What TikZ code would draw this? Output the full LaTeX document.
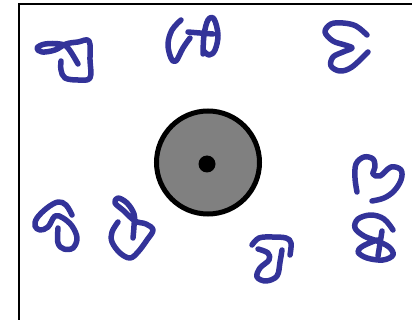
\documentclass[tikz,border=0pt]{standalone}
\begin{document}
\begin{tikzpicture}[x=1pt,y=-1pt,
  scrib/.style={draw={rgb,255:red,51;green,51;blue,153},line width=5.5pt,line cap=round,line join=round}]
\useasboundingbox (0,0) rectangle (412,320);
\clip (0,0) rectangle (412,320);
\draw[line width=2pt] (19,4.5) rectangle (440,350);
% central disc
\draw[line width=5pt,fill={rgb,255:red,128;green,128;blue,128}] (208,162.5) circle (51.5);
\fill (207,164) circle (8.5);
% scribble 1 top-left
\draw[scrib] plot[smooth,tension=0.6] coordinates {(78,64) (68,48) (60,44) (45,44) (37,48) (42,52) (55,50) (66,44) (78,42) (89,41) (90,60) (90,78) (78,80) (65,78) (61,70) (61,61)};
% scribble 2 top-middle
\draw[scrib] plot[smooth,tension=0.6] coordinates {(181,20) (172,30) (168,44) (171,58) (176,61) (183,48) (190,38)};
\draw[scrib] plot[smooth,tension=0.6] coordinates {(188,32) (200,33) (213,34)};
\draw[scrib] plot[smooth,tension=0.6] coordinates {(203,54) (204,35) (208,20) (214,19) (218,35) (215,50) (209,55) (203,50)};
% scribble 3 top-right
\draw[scrib] plot[smooth,tension=0.6] coordinates {(367,35) (356,26) (343,23) (331,24) (325,32) (333,41) (345,45) (352,48) (343,52) (333,57) (331,66) (340,71) (352,67) (368,52)};
% scribble 4 bottom-left
\draw[scrib] plot[smooth,tension=0.6] coordinates {(72,215) (66,205) (58,202) (47,208) (37,218) (35,226) (40,230) (48,227) (55,216) (63,218) (72,226) (77,238) (73,248) (64,249) (58,243) (58,228)};
% scribble 5 bottom-left second
\draw[scrib] plot[smooth,tension=0.6] coordinates {(118,222) (112,232) (112,242) (120,253) (130,258) (138,252) (147,240) (153,230) (146,224) (135,221) (124,211) (115,203) (118,198) (127,203) (134,214) (134,226) (133,238)};
% scribble 6 bottom-middle
\draw[scrib] plot[smooth,tension=0.6] coordinates {(252,245) (259,238) (272,237) (286,238) (291,243) (290,255)};
\draw[scrib] plot[smooth,tension=0.6] coordinates {(258,249) (268,253) (269,260) (260,268) (257,277) (266,281) (277,276) (280,262) (282,250)};
% scribble 7 right
\draw[scrib] plot[smooth,tension=0.6] coordinates {(357,192) (355,178) (356,164) (364,157) (373,159) (375,167) (373,174) (380,176) (391,167) (401,170) (401,180) (394,191) (384,198) (372,201)};
% scribble 8 right-bottom
\draw[scrib] plot[smooth,tension=0.6] coordinates {(393,230) (384,219) (371,215) (358,219) (355,228) (364,236) (377,241) (389,247) (393,255) (383,260) (367,258) (358,252) (363,246) (377,240)};
\draw[scrib] (382,231) -- (378,256);
\end{tikzpicture}
\end{document}
